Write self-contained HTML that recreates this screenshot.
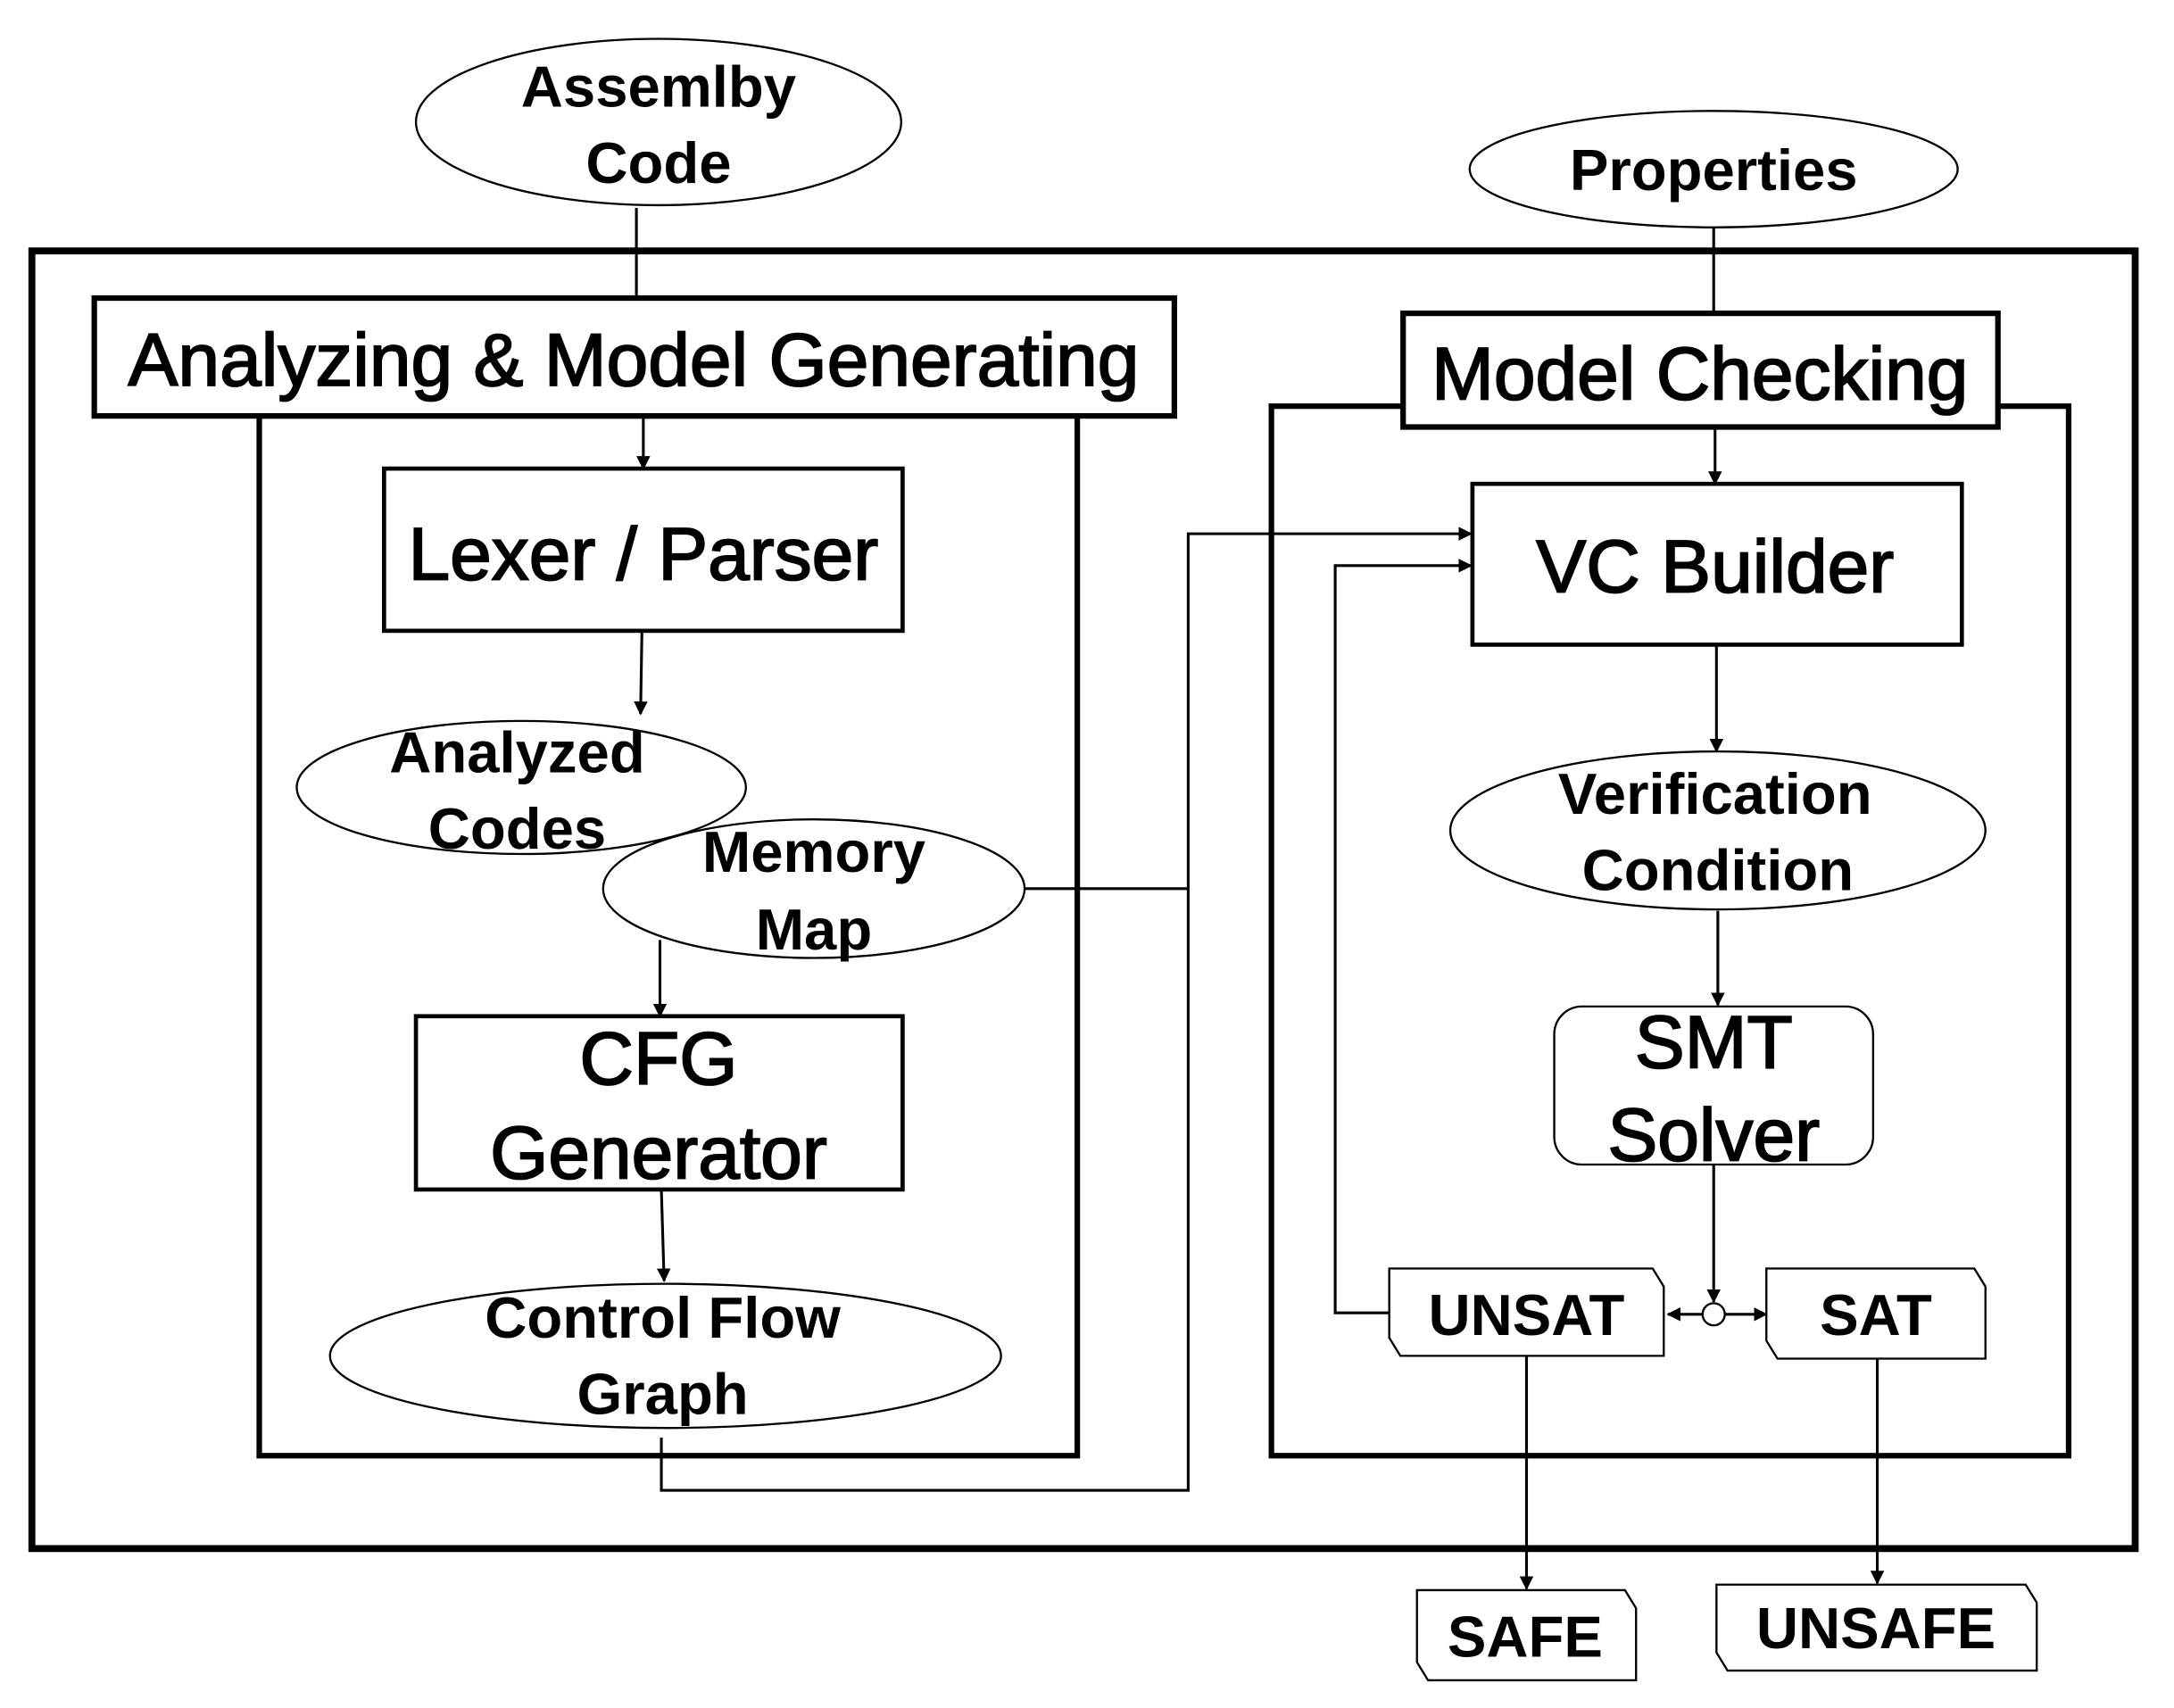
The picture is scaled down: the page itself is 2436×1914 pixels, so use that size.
<!DOCTYPE html>
<html><head><meta charset="utf-8"><style>html,body{margin:0;padding:0;background:#fff}svg{display:block}</style></head>
<body>
<svg width="2436" height="1914" viewBox="0 0 1568 1232" xmlns="http://www.w3.org/2000/svg" font-family="Liberation Sans, sans-serif">
<defs><marker id="a" markerWidth="10" markerHeight="10" refX="9" refY="5" orient="auto" markerUnits="userSpaceOnUse"><path d="M0,0 L10,5 L0,10 Z" fill="#000"/></marker></defs>
<rect width="1568" height="1232" fill="#fff"/>
<g fill="none" stroke="#000">
<rect x="23" y="181" width="1517" height="936" stroke-width="5"/>
<rect x="187" y="300" width="590" height="750" stroke-width="4"/>
<rect x="917" y="293" width="575" height="757" stroke-width="4"/>
<rect x="68" y="215" width="779" height="85" stroke-width="4" fill="#fff"/>
<rect x="1012" y="226" width="429" height="82" stroke-width="4" fill="#fff"/>
<rect x="277" y="338" width="374" height="117" stroke-width="3"/>
<rect x="300" y="733" width="351" height="125" stroke-width="3"/>
<rect x="1062" y="349" width="353" height="116" stroke-width="3"/>
<rect x="1121" y="726" width="230" height="114" rx="20" stroke-width="1.5"/>
<g stroke-width="2">
<line x1="459" y1="150" x2="459" y2="215"/>
<line x1="1236" y1="164" x2="1236" y2="226"/>
<line x1="464" y1="300" x2="464" y2="338" marker-end="url(#a)"/>
<line x1="463" y1="455" x2="462" y2="515" marker-end="url(#a)"/>
<line x1="476" y1="678" x2="476" y2="733" marker-end="url(#a)"/>
<line x1="477" y1="858" x2="479" y2="924" marker-end="url(#a)"/>
<polyline points="477,1037 477,1075 857,1075 857,385 1061,385" marker-end="url(#a)"/>
<line x1="738" y1="641" x2="857" y2="641"/>
<polyline points="1002,947 963,947 963,408 1061,408" marker-end="url(#a)"/>
<line x1="1237" y1="308" x2="1237" y2="349" marker-end="url(#a)"/>
<line x1="1238" y1="465" x2="1238" y2="542" marker-end="url(#a)"/>
<line x1="1239" y1="657" x2="1239" y2="725" marker-end="url(#a)"/>
<line x1="1236" y1="840" x2="1236" y2="939" marker-end="url(#a)"/>
<line x1="1228" y1="948" x2="1203" y2="948" marker-end="url(#a)"/>
<line x1="1244" y1="948" x2="1274" y2="948" marker-end="url(#a)"/>
<line x1="1101" y1="978" x2="1101" y2="1146" marker-end="url(#a)"/>
<line x1="1354" y1="980" x2="1354" y2="1142" marker-end="url(#a)"/>
</g>
<circle cx="1236" cy="948" r="8" stroke-width="1.5" fill="#fff"/>
<g stroke-width="1.5" fill="#fff">
<ellipse cx="475" cy="88" rx="175" ry="60"/>
<ellipse cx="1236" cy="122" rx="176" ry="42"/>
<ellipse cx="376" cy="568" rx="162" ry="48"/>
<ellipse cx="587" cy="641" rx="152" ry="50"/>
<ellipse cx="480" cy="978" rx="242" ry="52"/>
<ellipse cx="1239" cy="599" rx="193" ry="57"/>
<path d="M1002,915 H1192 L1200,928 V978 H1010 L1002,965 Z"/>
<path d="M1274,915 H1424 L1432,928 V980 H1282 L1274,967 Z"/>
<path d="M1022,1147 H1172 L1180,1160 V1212 H1030 L1022,1199 Z"/>
<path d="M1238,1143 H1461 L1469,1156 V1205 H1246 L1238,1192 Z"/>
</g>
</g>
<g text-anchor="middle" fill="#000">
<g font-size="42" font-weight="bold">
<text x="475" y="77">Assemlby</text><text x="475" y="132">Code</text>
<text x="1236" y="137">Properties</text>
<text x="373" y="557">Analyzed</text><text x="373" y="612">Codes</text>
<text x="587" y="629">Memory</text><text x="587" y="685">Map</text>
<text x="478" y="965">Control Flow</text><text x="478" y="1020">Graph</text>
<text x="1237" y="587">Verification</text><text x="1239" y="642">Condition</text>
<text x="1101" y="963">UNSAT</text><text x="1353" y="963">SAT</text>
<text x="1100" y="1195">SAFE</text><text x="1353" y="1189">UNSAFE</text>
</g>
<g font-size="54" stroke="#000" stroke-width="1.2">
<text x="457" y="278">Analyzing &amp; Model Generating</text>
<text x="1226" y="288">Model Checking</text>
<text x="464" y="418">Lexer / Parser</text>
<text x="475" y="782">CFG</text><text x="475" y="850">Generator</text>
<text x="1237" y="427">VC Builder</text>
<text x="1236" y="770">SMT</text><text x="1236" y="837">Solver</text>
</g>
</g>
</svg>
</body></html>
